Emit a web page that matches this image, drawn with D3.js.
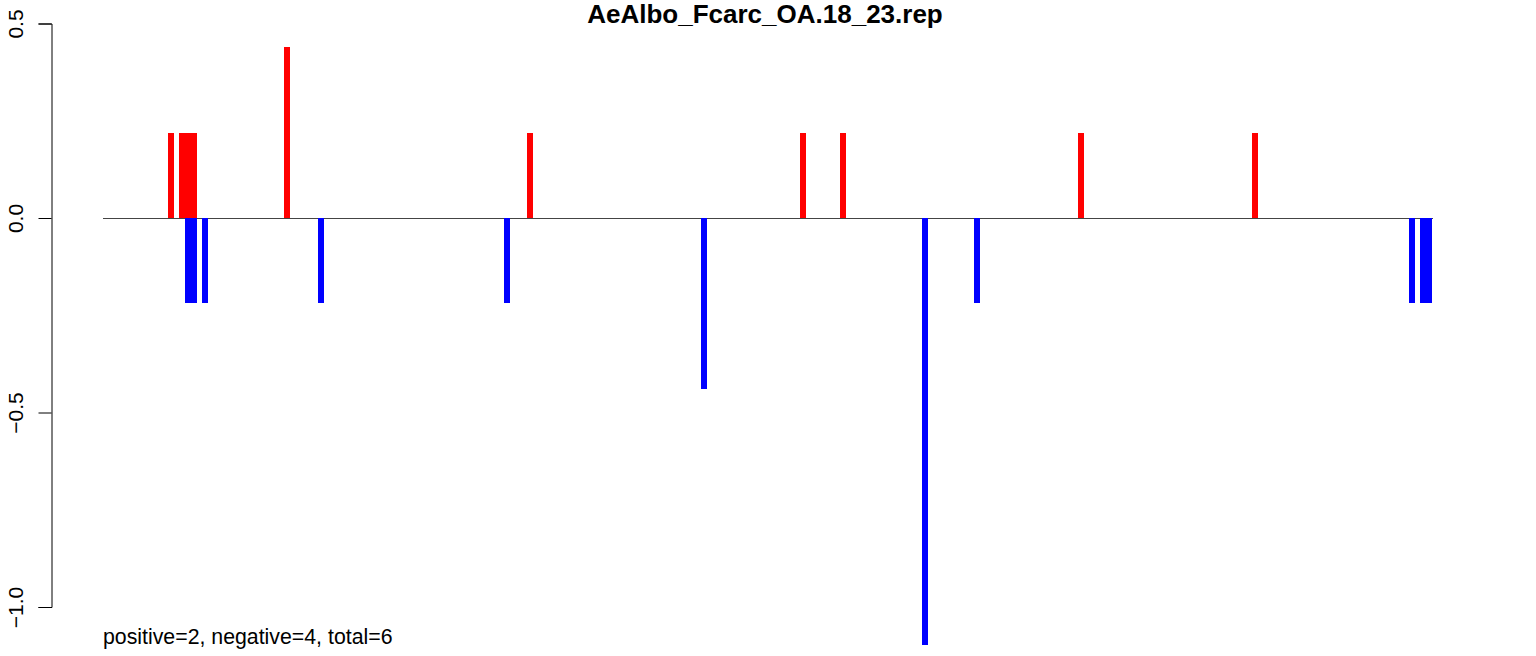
<!DOCTYPE html>
<html>
<head>
<meta charset="utf-8">
<script src="https://cdn.jsdelivr.net/npm/d3@7"></script>
<style>
  html, body { margin: 0; padding: 0; background: #fff; }
  svg { display: block; font-family: "Liberation Sans", Arial, Helvetica, sans-serif; }
</style>
</head>
<body>
<svg id="chart" width="1536" height="656"></svg>
<script>
// ---- data ----
const title = "AeAlbo_Fcarc_OA.18_23.rep";
const footnote = "positive=2, negative=4, total=6";
const positionRange = [0, 242];
const positivePositions = [12.4, 14.4, 15.5, 16.6, 33.5, 77.7, 127.4, 134.6, 178.0, 209.6];
const positiveValues    = [0.219, 0.219, 0.219, 0.219, 0.439, 0.219, 0.219, 0.219, 0.219, 0.219];
const negativePositions = [15.5, 16.6, 18.6, 39.7, 73.5, 109.4, 149.6, 159.0, 238.2, 240.2, 241.3];
const negativeValues    = [-0.219, -0.219, -0.219, -0.219, -0.219, -0.439, -1.097, -0.219, -0.219, -0.219, -0.219];
const yTicks = [-1.0, -0.5, 0.0, 0.5];

// ---- layout ----
const svg = d3.select("#chart");
const x = d3.scaleLinear().domain(positionRange).range([103, 1433]);
const y = d3.scaleLinear().domain([-1, 0.5]).range([607, 23.5]);
const barW = 6;

// zero baseline
svg.append("line")
  .attr("x1", x(positionRange[0])).attr("x2", x(positionRange[1]))
  .attr("y1", Math.round(y(0)) + 0.5).attr("y2", Math.round(y(0)) + 0.5)
  .attr("stroke", "#444").attr("stroke-width", 1);

function drawBars(pos, vals, color) {
  const data = pos.map((p, i) => ({p, v: vals[i]}));
  svg.append("g").attr("shape-rendering", "crispEdges")
    .selectAll("rect").data(data).join("rect")
    .attr("x", d => Math.round(x(d.p) - barW / 2))
    .attr("width", barW)
    .attr("y", d => Math.round(Math.min(y(d.v), y(0))))
    .attr("height", d => Math.round(Math.abs(y(d.v) - y(0))))
    .attr("fill", color);
}
drawBars(positivePositions, positiveValues, "#ff0000");
drawBars(negativePositions, negativeValues, "#0000ff");

// y axis
const axis = d3.axisLeft(y).tickValues(yTicks).tickFormat(d3.format(".1f")).tickSize(13).tickPadding(0);
const gAxis = svg.append("g").attr("transform", "translate(51.5,0)").call(axis);
gAxis.select(".domain").attr("stroke", "#000").attr("stroke-width", 1);
gAxis.selectAll(".tick line").attr("stroke", "#000").attr("stroke-width", 1);
gAxis.selectAll(".tick text")
  .attr("font-size", 21)
  .attr("fill", "#000")
  .attr("text-anchor", "middle")
  .attr("dy", 0)
  .attr("x", 0)
  .attr("transform", "translate(-29,0) rotate(-90)");
gAxis.attr("font-family", null);

// title
svg.append("text")
  .attr("x", 765).attr("y", 23)
  .attr("text-anchor", "middle")
  .attr("font-weight", "bold")
  .attr("font-size", 26)
  .text(title);

// footnote
svg.append("text")
  .attr("x", 103).attr("y", 644)
  .attr("font-size", 21.3)
  .text(footnote);
</script>
</body>
</html>
